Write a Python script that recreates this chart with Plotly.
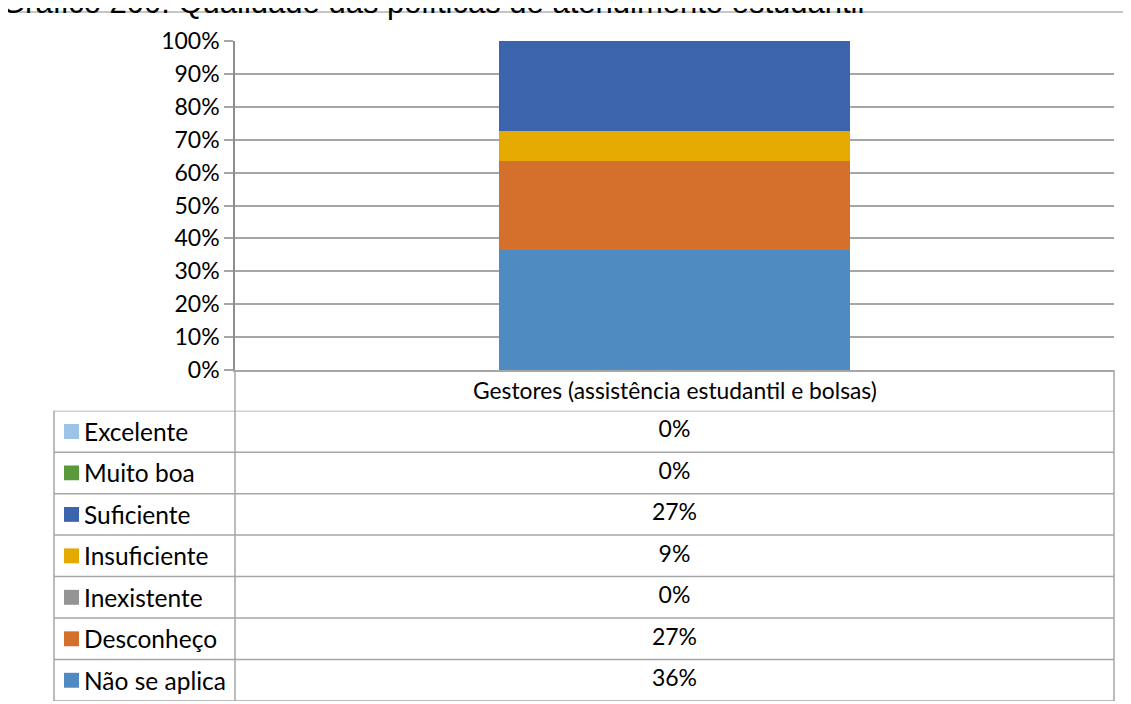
import plotly.graph_objects as go

# ---------------- data ----------------
title_text = "Gráfico 200: Qualidade das políticas de atendimento estudantil"
category = "Gestores (assistência estudantil e bolsas)"
# table order (top -> bottom)
series_names = ["Excelente", "Muito boa", "Suficiente", "Insuficiente",
                "Inexistente", "Desconheço", "Não se aplica"]
series_values = [0, 0, 27.27, 9.09, 0, 27.27, 36.36]
series_colors = ["#9DC3E6", "#5B9A3C", "#3C64AC", "#E5AA00",
                 "#949494", "#D4702C", "#4F8BC1"]
y_ticks = [0, 10, 20, 30, 40, 50, 60, 70, 80, 90, 100]
y_tick_labels = [f"{v}%" for v in y_ticks]

# ---------------- layout constants (page pixels) ----------------
W, H = 1131, 704
OFF = 8  # page body margin around the figure
FONT = "Lato"
GRID = "#A6A6A6"
AXIS = "#8E8E8E"

def px(x):
    return (x - OFF) / W

def py(y):
    return 1 - (y - OFF) / H

plot_l, plot_r = 235, 1114
plot_t, plot_b = 41, 370
tab_t, tab_b = 410.7, 701
tab_l = 54

fig = go.Figure()

# stacked bars, bottom series first
for name, val, col in reversed(list(zip(series_names, series_values, series_colors))):
    fig.add_trace(go.Bar(x=[category], y=[val], name=name, marker=dict(color=col, line=dict(width=0)),
                         xaxis="x", yaxis="y", showlegend=False, hoverinfo="skip"))

# table values
fig.add_trace(go.Scatter(x=[category] * len(series_names), y=series_names, mode="text",
                         text=[f"{v:.0f}%" for v in series_values],
                         textfont=dict(family=FONT, size=23, color="black"),
                         xaxis="x2", yaxis="y2", showlegend=False, hoverinfo="skip"))

shapes = []
# outer frame
shapes.append(dict(type="rect", xref="paper", yref="paper", x0=px(7), x1=1.05, y0=-0.05, y1=py(12),
                   line=dict(color="#8C8C8C", width=1), layer="below"))
# horizontal table lines (row boundaries)
n = len(series_names)
for k in range(n + 1):
    shapes.append(dict(type="line", xref="paper", yref="y2", x0=px(tab_l), x1=px(plot_r),
                       y0=k - 0.5, y1=k - 0.5, line=dict(color=GRID, width=1.5)))
# vertical lines
shapes.append(dict(type="line", xref="paper", yref="paper", x0=px(tab_l), x1=px(tab_l),
                   y0=py(tab_t), y1=py(tab_b), line=dict(color=GRID, width=1.5)))
shapes.append(dict(type="line", xref="paper", yref="paper", x0=px(plot_l), x1=px(plot_l),
                   y0=py(plot_b), y1=py(tab_b), line=dict(color=GRID, width=1.5)))
shapes.append(dict(type="line", xref="paper", yref="paper", x0=px(plot_r), x1=px(plot_r),
                   y0=py(plot_b), y1=py(tab_b), line=dict(color=GRID, width=1.5)))
# legend keys
for i, col in enumerate(series_colors):
    shapes.append(dict(type="rect", xref="paper", yref="y2", x0=px(64), x1=px(79),
                       y0=i - 0.18, y1=i + 0.18, fillcolor=col, line=dict(width=0)))

annotations = [
    dict(text=title_text, xref="paper", yref="paper", x=px(-1), y=py(2.5),
         xanchor="left", yanchor="middle", showarrow=False,
         font=dict(family="Liberation Sans", size=31, color="black")),
    dict(text=category, xref="x", yref="paper", x=category, y=py(390),
         xanchor="center", yanchor="middle", showarrow=False,
         font=dict(family=FONT, size=22.8, color="black")),
]
for name in series_names:
    annotations.append(dict(text=name, xref="paper", yref="y2", x=px(82), y=name,
                            xanchor="left", yanchor="middle", showarrow=False,
                            font=dict(family=FONT, size=24.5, color="black")))

fig.update_layout(
    width=W, height=H,
    margin=dict(l=0, r=0, t=0, b=0, pad=0, autoexpand=False),
    paper_bgcolor="white", plot_bgcolor="white",
    showlegend=False,
    barmode="stack", bargap=0.6,
    font=dict(family=FONT, size=23, color="black"),
    xaxis=dict(domain=[px(plot_l), px(plot_r)], type="category", showgrid=False,
               showline=True, linecolor=GRID, linewidth=1.5, ticks="", automargin=False,
               showticklabels=False, fixedrange=True),
    yaxis=dict(domain=[py(plot_b), py(plot_t)], range=[0, 100], tickvals=y_ticks,
               ticktext=y_tick_labels, showgrid=True, gridcolor=GRID, gridwidth=1.5,
               zeroline=False, showline=True, linecolor=AXIS, linewidth=1.5, automargin=False,
               ticks="outside", ticklen=9, tickcolor=GRID, tickwidth=1.5,
               tickfont=dict(family=FONT, size=23, color="black"), fixedrange=True),
    xaxis2=dict(domain=[px(plot_l), px(plot_r)], type="category", categoryarray=[category],
                range=[-0.5, 0.5], visible=False, anchor="y2", fixedrange=True, automargin=False),
    yaxis2=dict(domain=[py(tab_b), py(tab_t)], type="category", categoryarray=series_names,
                range=[n - 0.5, -0.5], visible=False, anchor="x2", fixedrange=True, automargin=False),
    shapes=shapes,
    annotations=annotations,
)

fig.write_html("out.html")
